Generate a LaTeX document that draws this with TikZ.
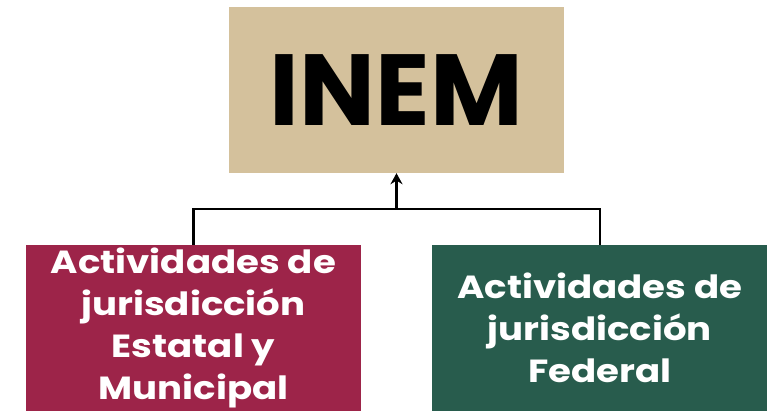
\documentclass[tikz,border=0pt]{standalone}
\usepackage{fontspec}
\setmainfont{Poppins}
\newfontfamily\areafont{Poppins}[FakeStretch=1.16]
\usepackage{tikz}
\usetikzlibrary{positioning, arrows.meta}
\definecolor{inemtan}{HTML}{D4C19C}
\definecolor{estatalred}{HTML}{9D2449}
\definecolor{federalgreen}{HTML}{285C4D}
\tikzstyle{headbox} = [rectangle, minimum width=335pt, minimum height=166pt, inner sep=0pt, text centered, fill=inemtan, font=\fontsize{101}{110}\selectfont\bfseries]
\tikzstyle{areabox} = [rectangle, minimum width=335pt, minimum height=166pt, inner sep=0pt, align=center, text=white, font=\areafont\fontsize{32}{42}\selectfont\bfseries]
\tikzstyle{link} = [line width=2.6pt, black]
\tikzstyle{arrow} = [line width=2.6pt, -{Stealth[length=11pt, width=12pt]}]

\begin{document}
\begin{tikzpicture}[x=1pt, y=1pt]

        \useasboundingbox (0,0) rectangle (776,-411);

        \node (inem) [headbox] at (396.5,-90) {INEM};
        \node (estatal) [areabox, fill=estatalred] at (193.5,-328) {Actividades de\\jurisdicción\\Estatal y\\Municipal};
        \node (federal) [areabox, fill=federalgreen, right=71pt of estatal] {Actividades de\\jurisdicción\\Federal};

        \coordinate (junction) at (396.5,-209);

        \draw [link] (estatal.north) |- (junction) -| (federal.north);
        \draw [arrow] (junction) -- (inem.south);

    \end{tikzpicture}
\end{document}
